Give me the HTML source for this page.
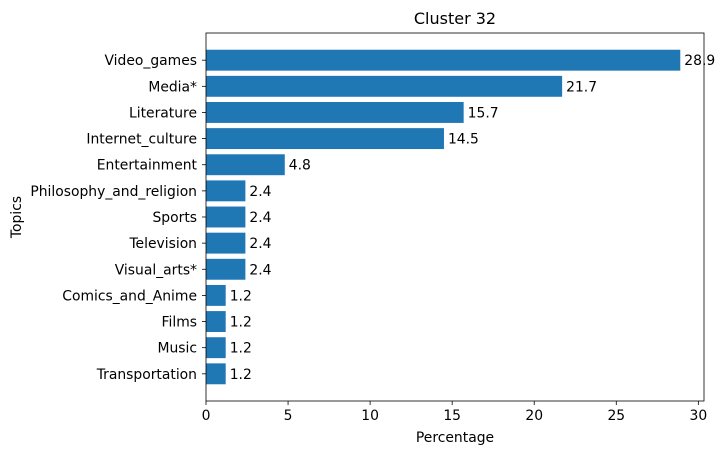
<!DOCTYPE html>
<html><head><meta charset="utf-8"><style>
body{margin:0;background:#fff;font-family:"Liberation Sans","DejaVu Sans",sans-serif;}
svg text{font-family:"DejaVu Sans","Liberation Sans",sans-serif;}
</style></head><body>
<svg id="chart" width="723" height="455" xmlns="http://www.w3.org/2000/svg"></svg>
<script>
const categories=["Video_games","Media*","Literature","Internet_culture","Entertainment","Philosophy_and_religion","Sports","Television","Visual_arts*","Comics_and_Anime","Films","Music","Transportation"];
const values=[28.9,21.7,15.7,14.5,4.8,2.4,2.4,2.4,2.4,1.2,1.2,1.2,1.2];
const valueLabels=["28.9","21.7","15.7","14.5","4.8","2.4","2.4","2.4","2.4","1.2","1.2","1.2","1.2"];
const xTicks=[0,5,10,15,20,25,30];
const NS="http://www.w3.org/2000/svg";
const svg=document.getElementById('chart');
const L=206,R=704,T=33,B=401;
const xmax=Math.max(...values)*1.05;
const n=categories.length;
const ylo=-0.4-0.05*(n-1+0.8), yhi=n-1+0.4+0.05*(n-1+0.8);
function x(v){return L+(v/xmax)*(R-L);}
function y(i){return T+(i-ylo)/(yhi-ylo)*(B-T);}
function el(tag,attrs,txt){const e=document.createElementNS(NS,tag);for(const k in attrs)e.setAttribute(k,attrs[k]);if(txt!==undefined)e.textContent=txt;svg.appendChild(e);return e;}
const bh=(0.8)/(yhi-ylo)*(B-T);
const FS=13.9;
categories.forEach((c,i)=>{
  const r=el('rect',{x:x(0),y:y(i)-bh/2,width:x(values[i])-x(0),height:bh,fill:'#1f77b4'});
  
  
  const t=el('text',{x:x(values[i])+4,y:y(i)+5,'font-size':FS,fill:'#000'},valueLabels[i]);
  
  
  el('line',{x1:L-4,x2:L,y1:y(i),y2:y(i),stroke:'#000','stroke-width':0.8});
  const yl=el('text',{x:L-9,y:y(i)+5,'font-size':FS,'text-anchor':'end',fill:'#000'},c);
  
  
});
xTicks.forEach(v=>{
  el('line',{x1:x(v),x2:x(v),y1:B,y2:B+4,stroke:'#000','stroke-width':0.8});
  const t=el('text',{x:x(v),y:B+19,'font-size':FS,'text-anchor':'middle',fill:'#000'},String(v));
  
  
});
const fr=el('rect',{x:L,y:T,width:R-L,height:B-T,fill:'none',stroke:'#000','stroke-width':0.8});


const tt=el('text',{x:(L+R)/2,y:24,'font-size':16,'text-anchor':'middle'},'Cluster 32');


const xt=el('text',{x:(L+R)/2,y:442,'font-size':FS,'text-anchor':'middle'},'Percentage');


const yt=el('text',{x:21,y:(T+B)/2,'font-size':FS,'text-anchor':'middle',transform:`rotate(-90 21 ${(T+B)/2})`},'Topics');


</script>
</body></html>
